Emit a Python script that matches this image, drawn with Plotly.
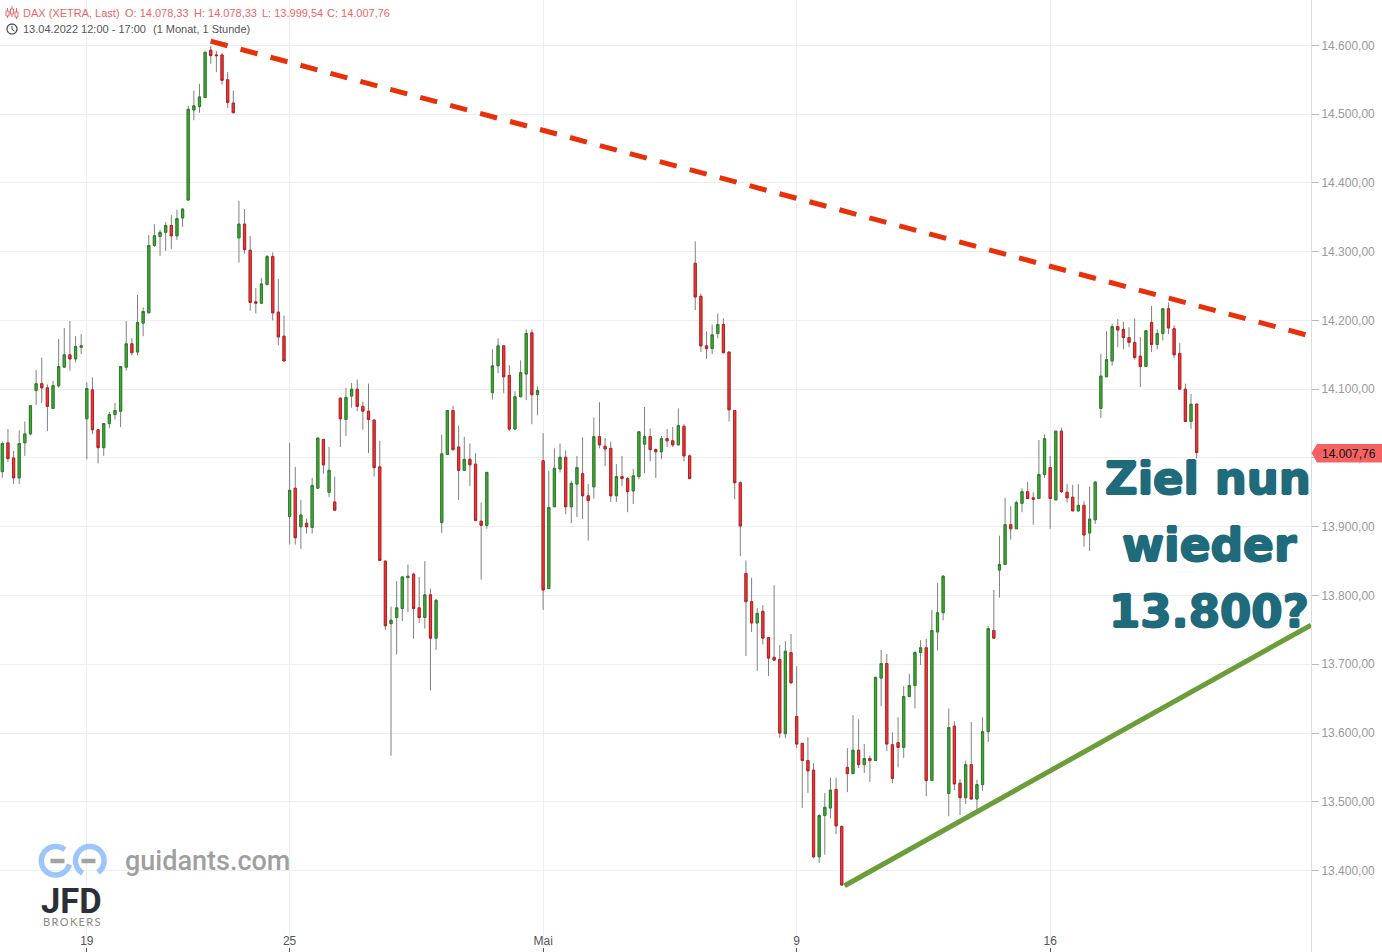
import numpy as np
import plotly.graph_objects as go

opens = [13980,14022,14000,13971,14022,14035,14098,14108,14102,14072,
14105,14132,14150,14144,14161,14057,14099,14041,14015,14050,
14063,14068,14132,14166,14154,14196,14211,14309,14322,14328,
14338,14323,14349,14375,14506,14511,14524,14593,14586,14586,
14550,14516,14320,14340,14302,14227,14225,14252,14293,14212,
14177,13915,13956,13900,13905,13899,13956,14027,13950,13936,
14087,14056,14090,14100,14075,14068,14055,13987,13850,13759,
13768,13781,13826,13831,13782,13768,13801,13738,13906,14005,
14069,14016,13982,13998,13991,13908,13902,14095,14134,14163,
14120,14042,14089,14122,14182,14092,13996,13810,13929,13984,
14001,13929,13962,13977,13945,13958,14031,14017,14014,13945,
13973,13970,13952,13973,14020,14031,14012,14009,14028,14025,
14019,14046,14003,14283,14235,14163,14159,14181,14194,14154,
14069,13964,13832,13791,13760,13777,13739,13710,13707,13599,
13717,13624,13585,13560,13546,13420,13480,13491,13518,13464,
13550,13541,13575,13554,13563,13560,13680,13701,13583,13586,
13579,13653,13669,13717,13724,13531,13747,13775,13512,13610,
13527,13506,13554,13504,13525,13602,13749,13837,13845,13903,
13897,13934,13951,13942,13941,13976,13986,13939,14039,13950,
13943,13923,13931,13891,13910,14072,14118,14141,14191,14187,
14175,14168,14148,14133,14197,14165,14181,14217,14188,14152,
14100,14053,14078.33]

closes = [14021,13999,13971,14021,14035,14076,14108,14102,14075,14105,
14133,14150,14144,14162,14163,14101,14041,14015,14050,14063,
14069,14133,14166,14153,14197,14213,14309,14323,14328,14338,
14323,14348,14362,14507,14512,14525,14590,14585,14585,14549,
14517,14502,14340,14303,14226,14225,14253,14293,14211,14176,
14141,13953,13884,13917,13900,13960,14029,13990,13982,13924,
14057,14088,14100,14075,14068,14056,13986,13851,13756,13764,
13782,13827,13828,13781,13768,13801,13738,13793,14006,14069,
14012,13982,13998,13990,13909,13902,13979,14134,14163,14118,
14042,14089,14124,14181,14092,14098,13808,13928,13985,14001,
13929,13963,13986,13945,13938,14031,14019,14013,13945,13973,
13970,13951,13974,14038,14031,14012,14009,14028,14025,14019,
14047,14003,13970,14234,14163,14159,14179,14194,14153,14070,
13964,13901,13791,13760,13774,13738,13709,13706,13600,13719,
13673,13584,13560,13545,13420,13480,13492,13517,13465,13379,
13541,13575,13554,13563,13560,13681,13701,13584,13534,13579,
13653,13669,13717,13724,13531,13749,13775,13828,13608,13526,
13506,13554,13504,13525,13602,13752,13738,13845,13903,13897,
13935,13951,13941,13940,13976,14028,13941,14039,13951,13942,
13923,13931,13888,13911,13965,14119,14143,14191,14186,14175,
14168,14146,14133,14185,14165,14181,14217,14189,14150,14100,
14053,14078,14007.76]

highs = [14024,14042,14010,14040,14053,14076,14128,14146,14107,14112,
14173,14189,14199,14177,14180,14110,14117,14041,14050,14067,
14080,14133,14199,14174,14237,14219,14324,14340,14332,14343,
14353,14361,14362,14512,14534,14544,14590,14599,14592,14589,
14561,14534,14374,14362,14323,14247,14262,14295,14299,14260,
14207,14022,13987,13939,13912,13971,14029,14027,14016,13973,
14087,14102,14109,14114,14082,14108,14056,14025,13850,13784,
13821,13827,13845,13833,13827,13850,13810,13795,14034,14069,
14076,14047,14031,14021,14007,13935,13979,14158,14174,14163,
14135,14097,14142,14187,14187,14104,14036,13981,14014,14021,
14011,13967,14003,14030,13962,14059,14081,14029,14024,13991,
14003,13972,13984,14038,14074,14043,14014,14032,14042,14045,
14072,14049,14005,14315,14239,14184,14194,14210,14203,14154,
14069,13966,13851,13826,13782,13786,13739,13815,13728,13734,
13744,13697,13585,13594,13556,13482,13513,13535,13535,13466,
13578,13626,13620,13584,13567,13681,13721,13715,13601,13623,
13668,13686,13719,13735,13737,13779,13818,13830,13636,13617,
13533,13560,13616,13532,13623,13756,13808,13887,13942,13930,
13938,13956,13965,13950,14026,14034,14003,14039,14044,13962,
13961,13962,13937,13958,13965,14151,14184,14195,14202,14198,
14190,14203,14176,14185,14221,14187,14217,14226,14193,14167,
14108,14093,14078.33]

lows = [13971,13994,13962,13962,14003,14033,14077,14080,14039,14072,
14102,14132,14127,14139,14151,13998,14035,13992,14003,14043,
14056,14045,14127,14149,14149,14177,14211,14307,14294,14301,
14304,14317,14336,14375,14491,14502,14524,14573,14561,14543,
14509,14502,14284,14297,14214,14210,14225,14252,14200,14164,
14141,13874,13874,13868,13890,13890,13956,13977,13943,13924,
14016,14032,14073,14068,14041,14007,13973,13851,13750,13567,
13714,13763,13776,13737,13760,13752,13662,13721,13891,14005,
14011,13939,13982,13959,13909,13823,13897,14085,14123,14094,
14039,14042,14089,14084,14049,14062,13779,13810,13929,13979,
13918,13905,13914,13911,13880,13941,14014,13988,13936,13936,
13959,13921,13933,13969,13978,13995,13971,13998,14016,14016,
14019,13995,13970,14215,14154,14144,14151,14174,14153,14053,
13940,13857,13712,13747,13690,13729,13683,13706,13593,13593,
13672,13578,13491,13513,13418,13411,13423,13476,13453,13379,
13514,13541,13549,13542,13529,13560,13639,13574,13527,13550,
13564,13653,13636,13699,13508,13531,13720,13764,13479,13517,
13481,13497,13504,13484,13516,13587,13738,13797,13845,13881,
13897,13921,13941,13903,13941,13971,13897,13939,13949,13935,
13923,13922,13871,13865,13904,14058,14118,14134,14161,14158,
14161,14143,14103,14133,14154,14158,14171,14180,14145,14100,
14053,14042,13999.54]

candle_index = list(range(len(opens)))
tick_positions = [15, 51, 96, 141, 186]
tick_labels = ["19", "25", "Mai", "9", "16"]
resistance_x = [36.98, 231.4]
resistance_y = [14606, 14179]
support_x = [149.5, 232.3]
support_y = [13378, 13757]
last_price = 14007.76

W, H = 1311, 952
px = lambda x: x / W
py = lambda y: 1 - y / H

fig = go.Figure()
fig.add_trace(go.Candlestick(
    x=candle_index, open=opens, high=highs, low=lows, close=closes,
    whiskerwidth=0, hoverinfo="skip", showlegend=False,
    increasing=dict(line=dict(color="#808080", width=1), fillcolor="rgba(0,0,0,0)"),
    decreasing=dict(line=dict(color="#808080", width=1), fillcolor="rgba(0,0,0,0)")))
fig.add_trace(go.Candlestick(
    x=candle_index, open=opens, close=closes,
    high=[max(o, c) for o, c in zip(opens, closes)],
    low=[min(o, c) for o, c in zip(opens, closes)],
    whiskerwidth=0, showlegend=False,
    increasing=dict(line=dict(color="#2b7f2b", width=1), fillcolor="#3fae2a"),
    decreasing=dict(line=dict(color="#c21c1c", width=1), fillcolor="#e93c3c")))
fig.add_trace(go.Scatter(x=resistance_x, y=resistance_y, mode="lines", showlegend=False,
                         hoverinfo="skip",
                         line=dict(color="#e8300a", width=5, dash="17.5px,13.5px")))
fig.add_trace(go.Scatter(x=support_x, y=support_y, mode="lines", showlegend=False,
                         hoverinfo="skip", line=dict(color="#6b9e3a", width=5)))

shapes = []
def poly(points, color, width):
    d = "M" + " L".join(f"{px(x):.5f},{py(y):.5f}" for x, y in points)
    shapes.append(dict(type="path", xref="paper", yref="paper", path=d,
                       line=dict(color=color, width=width)))
def arc(cx, cy, r, a0, a1, color, width):
    t = np.radians(np.linspace(a0, a1, 60))
    poly(list(zip(cx + r*np.cos(t), cy - r*np.sin(t))), color, width)

arc(55.6, 860.7, 14.3, 50, 345, "#9cc5fb", 5.5)
arc(89.8, 860.7, 14.3, 240, -55, "#9cc5fb", 5.5)
poly([(50.5, 861), (64.5, 861)], "#a3a3a3", 4.5)
poly([(81.5, 861), (95.5, 861)], "#a3a3a3", 4.5)

for x, y0, y1, b0, b1 in [(7.5, 8, 18, 11, 16), (12, 6, 17, 9, 14), (16.5, 8, 19, 12, 17)]:
    poly([(x, y0), (x, y1)], "#ef6464", 1)
    shapes.append(dict(type="rect", xref="paper", yref="paper", x0=px(x-1.5), x1=px(x+1.5),
                       y0=py(b0), y1=py(b1), line=dict(color="#ef6464", width=1),
                       fillcolor="#ffffff"))
t = np.radians(np.linspace(0, 360, 40))
poly(list(zip(12 + 5*np.cos(t), 29 + 5*np.sin(t))), "#444444", 1.2)
poly([(12, 26), (12, 29.5), (14.5, 31)], "#444444", 1)

shapes.append(dict(type="path", xref="paper", yref="paper",
    path=(f"M{px(1311.5)},{py(453)} L{px(1317)},{py(444)} L{px(1382)},{py(444)} "
          f"L{px(1382)},{py(462.5)} L{px(1317)},{py(462.5)} Z"),
    fillcolor="#f56262", line=dict(width=0), layer="above"))

def note(x, y, text, size, color, family="Liberation Sans", xanchor="left", weight=None, shadow=None):
    f = dict(size=size, color=color, family=family)
    if weight:
        f["weight"] = weight
    if shadow:
        f["shadow"] = shadow
    if xanchor == "left":
        x -= 2
    return dict(xref="paper", yref="paper", x=px(x), y=py(y), text=text, showarrow=False,
                xanchor=xanchor, yanchor="middle", font=f)

red = "#ef6464"
grey = "#555555"
teal = "#1f6b7c"
thick = ", ".join(f"{a}px {b}px 0 {teal}" for a, b in [(1, 0), (-1, 0), (0, 1), (0, -1)])
annotations = [
    note(23, 13.5, "DAX (XETRA, Last)", 11, red),
    note(125, 13.5, "O: 14.078,33", 11, red),
    note(194, 13.5, "H: 14.078,33", 11, red),
    note(262, 13.5, "L: 13.999,54", 11, red),
    note(327, 13.5, "C: 14.007,76", 11, red),
    note(23, 29, "13.04.2022 12:00 - 17:00", 11, grey),
    note(153, 29, "(1 Monat, 1 Stunde)", 11, grey),
    note(1207.5, 478, "Ziel nun", 45, teal, "DejaVu Sans", "center", "bold", thick),
    note(1209.5, 545, "wieder", 45.5, teal, "DejaVu Sans", "center", "bold", thick),
    note(1209, 611, "13.800?", 45, teal, "DejaVu Sans", "center", "bold", thick),
    note(125, 861, "guidants.com", 27, "#a0a0a0", "Roboto", "left", 500),
    note(71.5, 900.5, "JFD", 34.5, "#2b3038", "Roboto", "center", "bold"),
    note(71.5, 921.5, "B\u2009R\u2009O\u2009K\u2009E\u2009R\u2009S", 11, "#888888", "Lato", "center"),
    note(1322, 453.5, "14.007,76", 12, "#111111"),
]

fig.update_layout(
    width=1382, height=952, margin=dict(l=0, r=71, t=0, b=0, autoexpand=False),
    paper_bgcolor="#ffffff", plot_bgcolor="#ffffff", showlegend=False,
    separators=",.", boxgap=0.45, boxmode="overlay", shapes=shapes, annotations=annotations,
    font=dict(family="Liberation Sans"),
    xaxis=dict(range=[-0.41, 232.3], tickmode="array", tickvals=tick_positions, ticktext=tick_labels,
               showgrid=True, gridcolor="#eeeeee", gridwidth=1, zeroline=False, showline=False,
               ticks="inside", ticklen=4, tickcolor="#555555", ticklabelposition="inside",
               tickfont=dict(size=12, color="#555555"), rangeslider=dict(visible=False)),
    yaxis=dict(range=[13281.6, 14665.9], side="right", dtick=100, tick0=13300, tickformat=",.2f",
               showgrid=True, gridcolor="#eeeeee", gridwidth=1, zeroline=False,
               showline=True, linecolor="#dddddd", linewidth=1, ticks="outside", ticklen=7,
               tickcolor="#bbbbbb", tickfont=dict(size=12, color="#999999")),
)
fig.write_html("out.html", config={"displayModeBar": False},
               post_script="document.body.style.margin='0';document.body.style.overflow='hidden';")
